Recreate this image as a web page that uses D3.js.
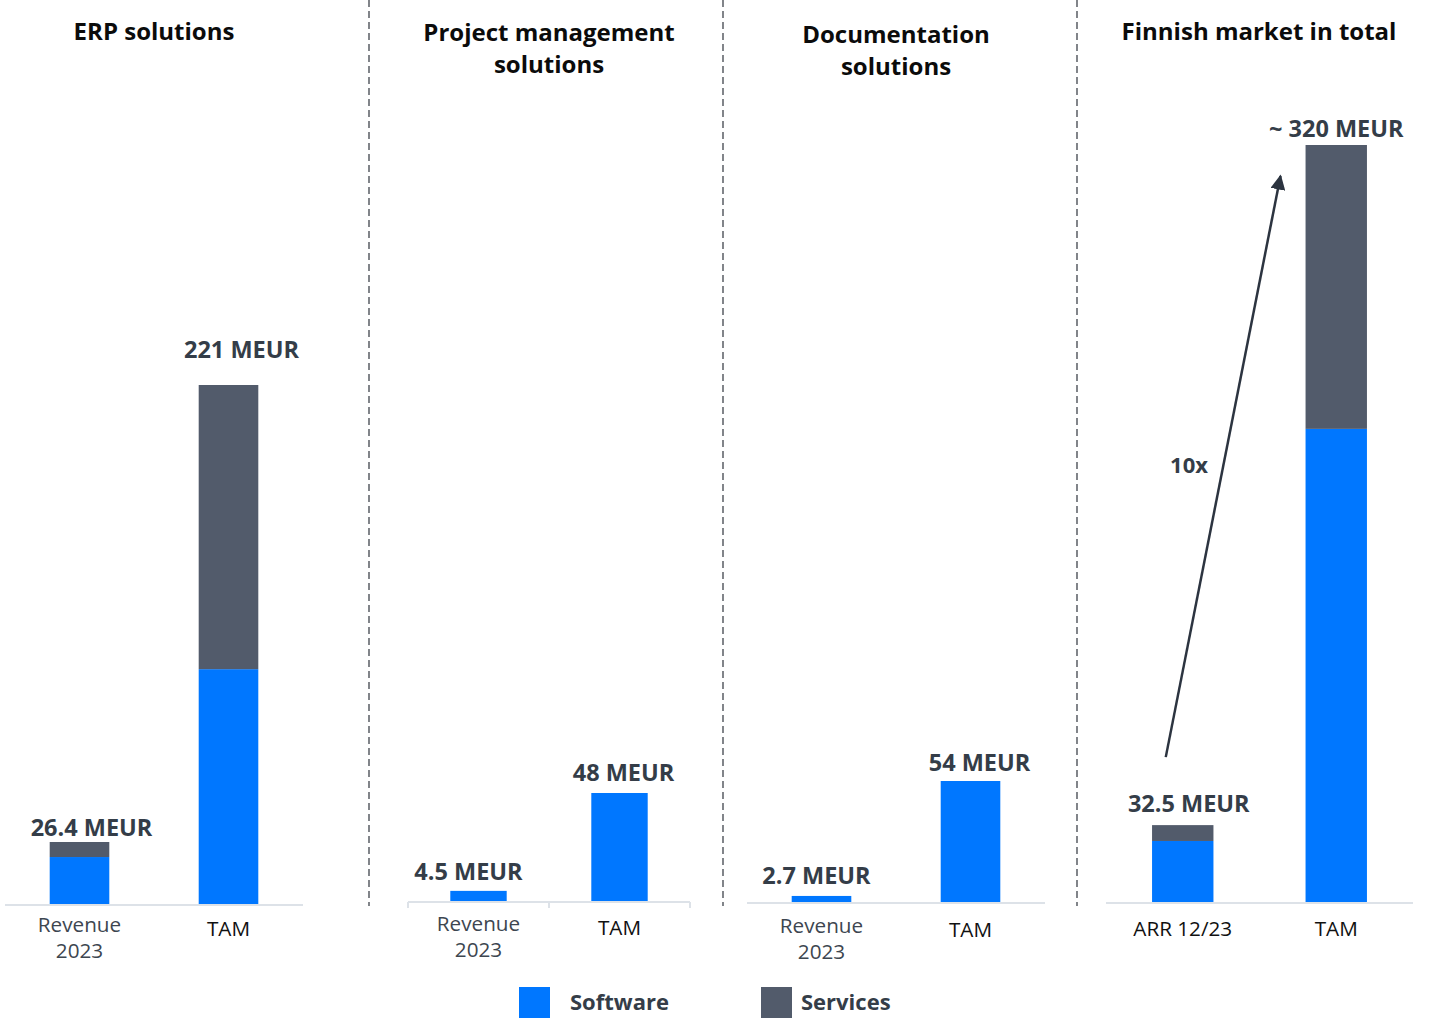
<!DOCTYPE html>
<html>
<head>
<meta charset="utf-8">
<script src="https://cdn.jsdelivr.net/npm/d3@7"></script>
<style>
  html, body { margin: 0; padding: 0; background: #fff; }
  svg { display: block; font-family: "Open Sans", "Lato", sans-serif; }
</style>
</head>
<body>
<svg id="chart" width="1442" height="1020"></svg>
<script>
// ---- Data ----
const panelTitles = [
  ["ERP solutions"],
  ["Project management", "solutions"],
  ["Documentation", "solutions"],
  ["Finnish market in total"]
];
const categories = [
  [["Revenue", "2023"], ["TAM"]],
  [["Revenue", "2023"], ["TAM"]],
  [["Revenue", "2023"], ["TAM"]],
  [["ARR 12/23"], ["TAM"]]
];
// MEUR, per panel: [first bar, TAM]
const softwareValues = [[20, 100], [4.5, 48], [2.7, 54], [25.8, 200]];
const servicesValues = [[6.4, 121], [0, 0], [0, 0], [6.7, 120]];
const valueLabels = [
  ["26.4 MEUR", "221 MEUR"],
  ["4.5 MEUR", "48 MEUR"],
  ["2.7 MEUR", "54 MEUR"],
  ["32.5 MEUR", "~ 320 MEUR"]
];
const growthLabel = "10x";
const seriesNames = ["Software", "Services"];

// ---- Styling / layout ----
const colors = { Software: "#0077FF", Services: "#525B6B" };
const labelColor = "#343D48";
const layout = [
  { x0: 5,    x1: 303,  base: 904, top: 385, ticks: false, titleX: 154,  titleY: 40, catY: 932,
    lblOff: [[12, -6], [13, -27]] },
  { x0: 408,  x1: 690,  base: 901, top: 793, ticks: true,  titleX: 549,  titleY: 41, catY: 931,
    lblOff: [[-10, -11], [4, -12]] },
  { x0: 747,  x1: 1045, base: 902, top: 781, ticks: false, titleX: 896,  titleY: 43, catY: 933,
    lblOff: [[-5, -12], [9, -10]] },
  { x0: 1106, x1: 1413, base: 902, top: 145, ticks: false, titleX: 1259, titleY: 40, catY: 936,
    lblOff: [[6, -13], [0, -8]] }
];
const separators = [369, 723, 1077];

const svg = d3.select("#chart");

// dashed separators between panels
svg.selectAll("line.sep").data(separators).join("line")
  .attr("class", "sep")
  .attr("x1", d => d).attr("x2", d => d)
  .attr("y1", 0).attr("y2", 906)
  .attr("stroke", "#3f444c").attr("stroke-width", 1.3)
  .attr("stroke-dasharray", "7,4");

panelTitles.forEach((title, p) => {
  const L = layout[p];
  const g = svg.append("g");
  const total = softwareValues[p].map((v, i) => v + servicesValues[p][i]);

  const x = d3.scaleBand().domain(d3.range(2)).range([L.x0, L.x1]).padding(0);
  const y = d3.scaleLinear().domain([0, total[1]]).range([L.base, L.top]);
  const bw = x.bandwidth() * 0.4;

  // title
  const t = g.append("text")
    .attr("x", L.titleX).attr("y", L.titleY)
    .attr("text-anchor", "middle")
    .attr("font-size", 24).attr("font-weight", 700).attr("fill", "#0b0b0b");
  title.forEach((line, i) => {
    t.append("tspan").attr("x", L.titleX).attr("dy", i === 0 ? 0 : 32).text(line);
  });

  // baseline axis
  g.append("line")
    .attr("x1", L.x0).attr("x2", L.x1)
    .attr("y1", L.base + 1).attr("y2", L.base + 1)
    .attr("stroke", "#dde2e8").attr("stroke-width", 2);
  if (L.ticks) {
    g.selectAll("line.tick").data([L.x0, (L.x0 + L.x1) / 2, L.x1]).join("line")
      .attr("class", "tick")
      .attr("x1", d => d).attr("x2", d => d)
      .attr("y1", L.base + 1).attr("y2", L.base + 7)
      .attr("stroke", "#dde2e8").attr("stroke-width", 2);
  }

  // stacked bars
  const stackData = [0, 1].map(i => ({ i, Software: softwareValues[p][i], Services: servicesValues[p][i] }));
  const series = d3.stack().keys(seriesNames)(stackData);
  g.selectAll("g.series").data(series).join("g")
    .attr("class", "series")
    .attr("fill", s => colors[s.key])
    .selectAll("rect").data(s => s.filter(d => d[1] - d[0] > 0)).join("rect")
    .attr("x", d => x(d.data.i) + x.bandwidth() / 2 - bw / 2)
    .attr("width", bw)
    .attr("y", d => y(d[1]))
    .attr("height", d => y(d[0]) - y(d[1]));

  // value labels
  g.selectAll("text.val").data([0, 1]).join("text")
    .attr("class", "val")
    .attr("x", i => x(i) + x.bandwidth() / 2 + L.lblOff[i][0])
    .attr("y", i => y(total[i]) + L.lblOff[i][1])
    .attr("text-anchor", "middle")
    .attr("font-size", 23.5).attr("font-weight", 700).attr("fill", labelColor)
    .text(i => valueLabels[p][i]);

  // category labels
  categories[p].forEach((lines, i) => {
    const cx = x(i) + x.bandwidth() / 2;
    const dark = lines[0] === "TAM" || p === 3;
    const ct = g.append("text")
      .attr("x", cx).attr("y", L.catY + (lines.length === 1 && p !== 3 ? 4 : 0))
      .attr("text-anchor", "middle")
      .attr("font-size", 20.7)
      .attr("fill", dark ? "#111" : "#3d4650");
    lines.forEach((line, j) => {
      ct.append("tspan").attr("x", cx).attr("dy", j === 0 ? 0 : 26).text(line);
    });
  });

  // growth arrow in the total-market panel
  if (p === 3) {
    const x1 = x(0) + x.bandwidth() / 2 - 17, y1 = y(total[0]) - 68;
    const x2 = x(1) + 21, y2 = y(total[1]) + 31;
    svg.append("defs").append("marker")
      .attr("id", "arrowhead").attr("viewBox", "0 0 10 10")
      .attr("refX", 9).attr("refY", 5)
      .attr("markerWidth", 6).attr("markerHeight", 6)
      .attr("orient", "auto")
      .append("path").attr("d", "M0,0 L10,5 L0,10 Z").attr("fill", "#2c3440");
    g.append("line")
      .attr("x1", x1).attr("y1", y1).attr("x2", x2).attr("y2", y2)
      .attr("stroke", "#2c3440").attr("stroke-width", 2.5)
      .attr("marker-end", "url(#arrowhead)");
    g.append("text")
      .attr("x", 1189).attr("y", 473)
      .attr("text-anchor", "middle")
      .attr("font-size", 22).attr("font-weight", 700).attr("fill", labelColor)
      .text(growthLabel);
  }
});

// legend
const legend = svg.append("g").selectAll("g").data(seriesNames).join("g")
  .attr("transform", (d, i) => `translate(${[519, 761][i]},987)`);
legend.append("rect").attr("width", 31).attr("height", 31).attr("fill", d => colors[d]);
legend.append("text")
  .attr("x", (d, i) => [51, 40][i]).attr("y", 23)
  .attr("font-size", 22).attr("font-weight", 700).attr("fill", labelColor)
  .text(d => d);
</script>
</body>
</html>
